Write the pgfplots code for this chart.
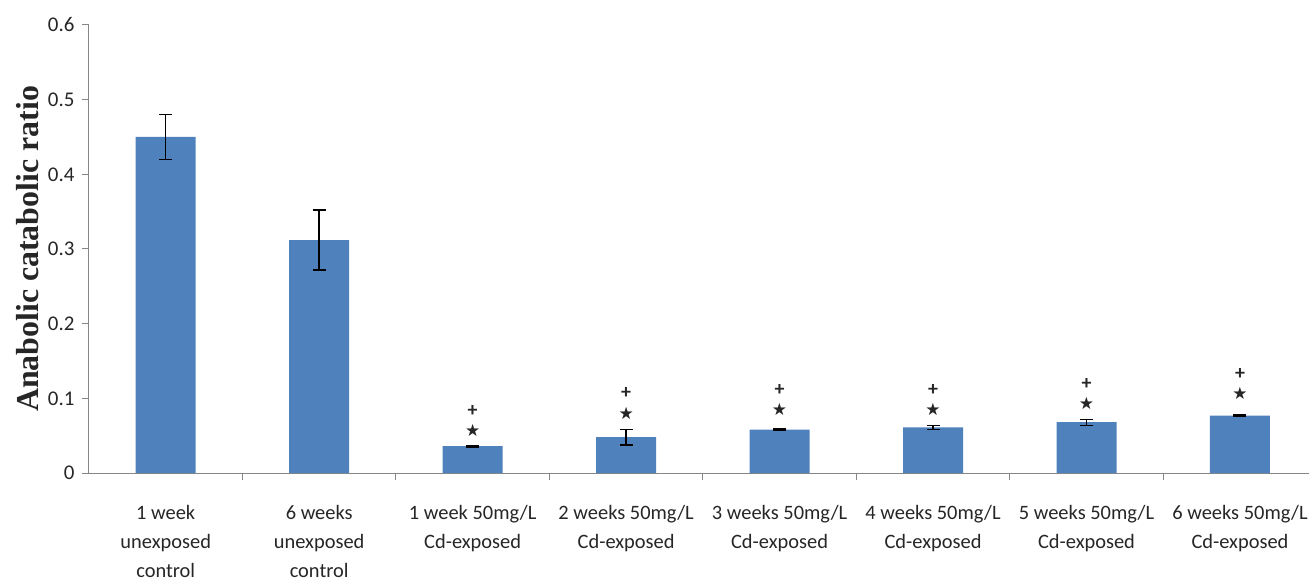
\documentclass[border=0pt]{standalone}
\usepackage{pgfplots}
\pgfplotsset{compat=1.18}
\usepackage{fontspec}
\setmainfont{Carlito}
\newfontfamily\serifb{Liberation Serif}
\newfontfamily\symf{DejaVu Sans}
\usetikzlibrary{calc}
\definecolor{barblue}{HTML}{4F81BD}
\definecolor{axgrey}{HTML}{868686}
\begin{document}
\begin{tikzpicture}
\begin{axis}[
  scale only axis,
  width=1220bp, height=448bp,
  xmin=-0.5, xmax=7.45,
  ymin=0, ymax=0.6,
  axis x line=bottom, axis y line=left,
  axis line style={-, axgrey, line width=1bp},
  ytick={0,0.1,...,0.6},
  yticklabel style={/pgf/number format/fixed, /pgf/number format/precision=1, font=\fontsize{21}{24}\selectfont, text=black!85, xshift=-4bp},
  /pgf/number format/assume math mode=true,
  tick style={axgrey, line width=1bp},
  major tick length=7bp,
  tick align=outside,
  xtick={0.5,1.5,2.5,3.5,4.5,5.5,6.5},
  xticklabels={},
  extra x ticks={0,1,2,3,4,5,6,7},
  extra x tick labels={{1 week\\unexposed\\control},{6 weeks\\unexposed\\control},{1 week 50mg/L\\Cd-exposed},{2 weeks 50mg/L\\Cd-exposed},{3 weeks 50mg/L\\Cd-exposed},{4 weeks 50mg/L\\Cd-exposed},{5 weeks 50mg/L\\Cd-exposed},{6 weeks 50mg/L\\Cd-exposed}},
  extra x tick style={major tick length=0pt, tick style={draw=none}},
  xticklabel style={align=center, font=\fontsize{20.5}{29}\selectfont, text=black!85, yshift=-29bp},
  ylabel={\serifb\bfseries Anabolic catabolic ratio},
  ylabel style={at={(axis description cs:0,0.5)}, anchor=center, rotate=0, yshift=61bp, font=\fontsize{32}{36}\selectfont, text=black!85},
  clip=false,
]
\addplot[ybar, bar shift=0pt, bar width=60bp, fill=barblue, draw=none,
  error bars/.cd, y dir=both, y explicit,
  error bar style={black, line width=1.4bp},
  error mark options={rotate=90, mark size=6.5bp, line width=1.4bp, black}]
  coordinates {
  (0,0.450) +- (0,0.030)
  (1,0.312) +- (0,0.040)
  (2,0.036) +- (0,0.0012)
  (3,0.048) +- (0,0.0105)
  (4,0.058) +- (0,0.0010)
  (5,0.061) +- (0,0.0030)
  (6,0.068) +- (0,0.0040)
  (7,0.077) +- (0,0.0006)
  };
\addplot[draw=none, mark=none, nodes near coords, point meta=explicit symbolic,
  nodes near coords style={anchor=center, font=\fontsize{20}{20}\selectfont\bfseries, text=black!85, inner sep=0pt}]
  table[meta=lab] {
  x y lab
  2 0.0830 +
  3 0.1070 +
  4 0.1110 +
  5 0.1110 +
  6 0.1190 +
  7 0.1330 +
  };
\addplot[draw=none, mark=none, nodes near coords, point meta=explicit symbolic,
  nodes near coords style={anchor=center, font=\symf\fontsize{17}{20}\selectfont, text=black!85, inner sep=0pt}]
  table[meta=lab] {
  x y lab
  2 0.0576 ★
  3 0.0803 ★
  4 0.0857 ★
  5 0.0857 ★
  6 0.0937 ★
  7 0.1062 ★
  };
\coordinate (O) at (axis cs:-0.5,0);
\end{axis}
\pgfresetboundingbox
\path[use as bounding box] ($(O)+(-89bp,-111bp)$) rectangle ($(O)+(1220bp,473bp)$);
\end{tikzpicture}
\end{document}
